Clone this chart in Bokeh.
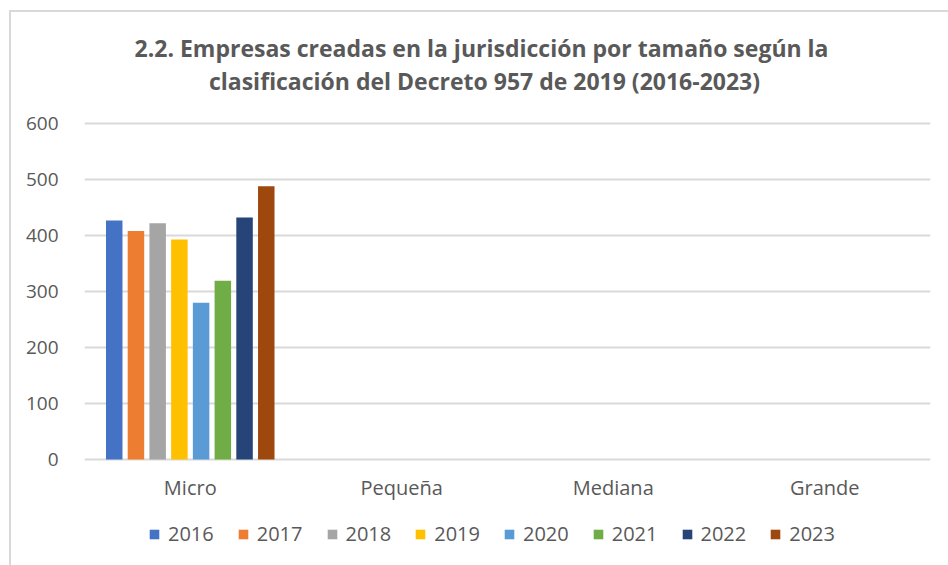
from bokeh.plotting import figure
from bokeh.models import ColumnDataSource, FactorRange, Legend, LegendItem, Range1d, FixedTicker
from bokeh.core.properties import value
from bokeh.transform import dodge
from bokeh.embed import file_html
from bokeh.resources import INLINE

categories = ["Micro", "Pequeña", "Mediana", "Grande"]
years = ["2016", "2017", "2018", "2019", "2020", "2021", "2022", "2023"]
v2016 = [427, 0, 0, 0]
v2017 = [408, 0, 0, 0]
v2018 = [422, 0, 0, 0]
v2019 = [393, 0, 0, 0]
v2020 = [280, 0, 0, 0]
v2021 = [319, 0, 0, 0]
v2022 = [432, 0, 0, 0]
v2023 = [488, 0, 0, 0]
series = [v2016, v2017, v2018, v2019, v2020, v2021, v2022, v2023]
colors = ["#4472C4", "#ED7D31", "#A5A5A5", "#FFC000", "#5B9BD5", "#70AD47", "#264478", "#9E480E"]
y_ticks = [0, 100, 200, 300, 400, 500, 600]
title_lines = ["2.2.  Empresas creadas en la jurisdicción por tamaño según la",
               "clasificación del Decreto 957 de 2019 (2016-2023)"]

FONT = "Open Sans"
GREY = "#595959"

# layout in pixels
W, H = 948, 565
LEFT, RIGHT = 84, 18
PLOT_TOP_PX, PLOT_BOTTOM_PX = 123, 459      # pixel rows of 600 and 0
ppu = (PLOT_BOTTOM_PX - PLOT_TOP_PX) / (y_ticks[-1] - y_ticks[0])
y_lo = y_ticks[0] - (H - PLOT_BOTTOM_PX) / ppu
y_hi = y_ticks[-1] + PLOT_TOP_PX / ppu

data = {"cat": categories}
for y, s in zip(years, series):
    data["y" + y] = s
source = ColumnDataSource(data)

p = figure(x_range=FactorRange(*categories), y_range=Range1d(y_lo, y_hi),
           frame_width=W - LEFT - RIGHT, frame_height=H, x_axis_location=None,
           output_backend="svg", toolbar_location=None,
           min_border_left=LEFT, min_border_right=RIGHT, min_border_top=0, min_border_bottom=0)

# title (two centred lines, centred on the whole chart)
title_src = ColumnDataSource({"t": title_lines, "dy": [-76, -43]})
p.text(x=len(categories) / 2, y=y_ticks[-1], text="t", y_offset="dy", x_offset=-23,
       source=title_src, text_align="center", text_baseline="middle",
       text_font=value(FONT), text_font_size="23px", text_font_style="bold", text_color=GREY)

step = 0.1027
bw = 0.078
items = []
for i, (y, c) in enumerate(zip(years, colors)):
    off = (i - 3.5) * step
    r = p.vbar(x=dodge("cat", off, range=p.x_range), top="y" + y, width=bw,
               source=source, fill_color=c, line_color=None)
    items.append(LegendItem(label=y, renderers=[r]))

# category labels under the baseline
p.text(x="cat", y=y_ticks[0], text="cat", y_offset=28, source=source,
       text_align="center", text_baseline="middle",
       text_font=value(FONT), text_font_size="20px", text_color=GREY)

legend = Legend(items=items, orientation="horizontal", location=(64, 18),
                label_text_font=FONT, label_text_font_size="20px", label_text_color=GREY,
                glyph_width=12, glyph_height=12, label_standoff=8, spacing=23,
                border_line_color=None, background_fill_alpha=0, margin=0, padding=0)
p.add_layout(legend, "center")

p.yaxis.ticker = FixedTicker(ticks=y_ticks)
p.yaxis.axis_line_color = None
p.yaxis.major_tick_line_color = None
p.yaxis.minor_tick_line_color = None
p.yaxis.major_label_standoff = 20
p.yaxis.major_label_text_font = FONT
p.yaxis.major_label_text_font_size = "19px"
p.yaxis.major_label_text_color = GREY

p.xgrid.grid_line_color = None
p.ygrid.grid_line_color = "#d9d9d9"
p.ygrid.grid_line_width = 2
p.outline_line_color = None
p.border_fill_color = None
p.background_fill_color = None
p.styles = {"background": "linear-gradient(#d9d9d9,#d9d9d9) 9px 10px / 2px 100% no-repeat, "
                          "linear-gradient(#d9d9d9,#d9d9d9) 9px 10px / 100% 2px no-repeat, white"}

open("out.html", "w").write(file_html(p, INLINE))
